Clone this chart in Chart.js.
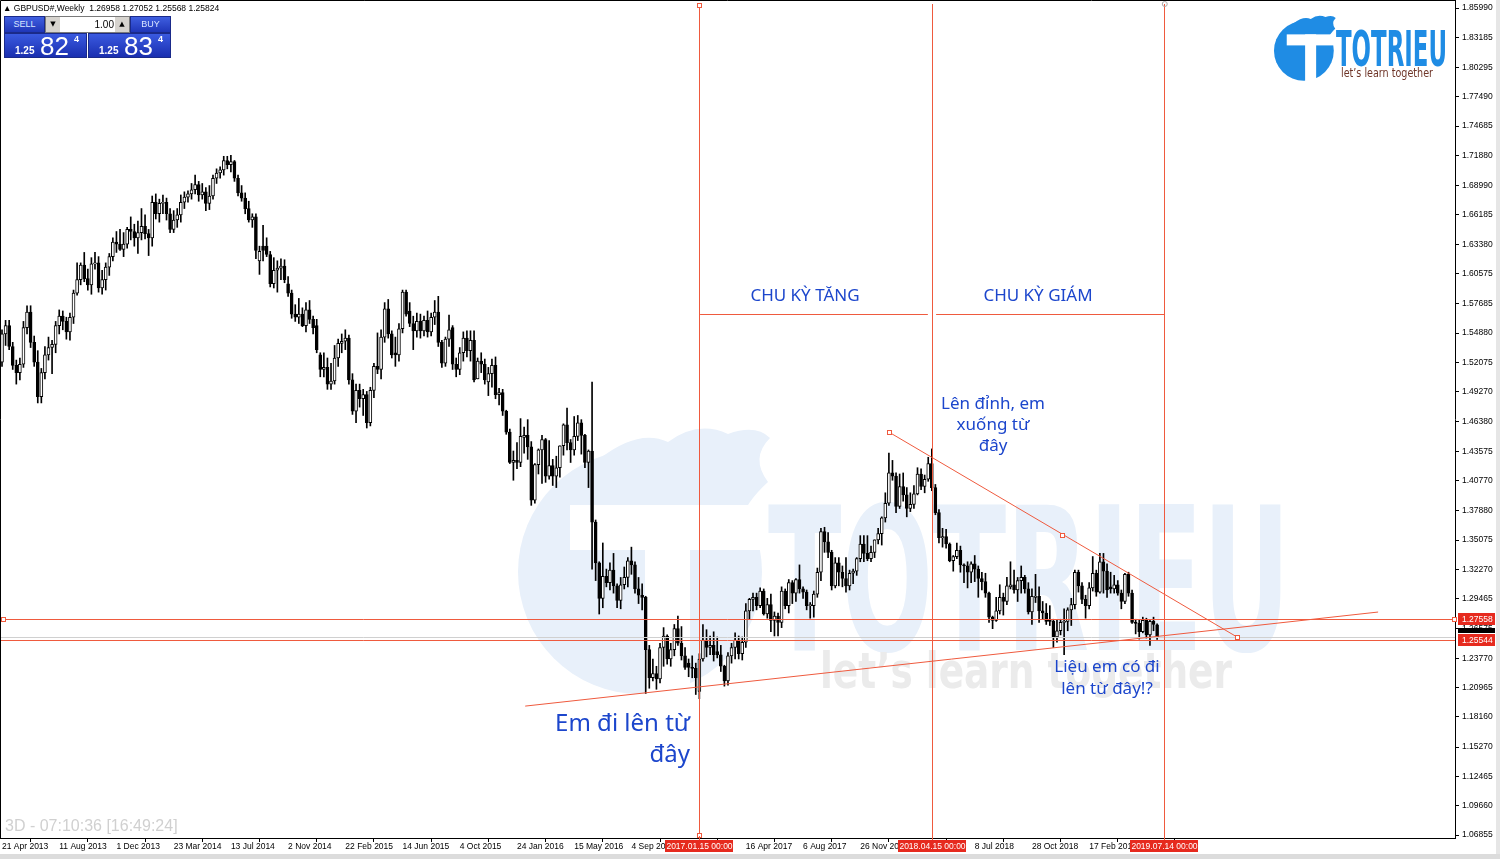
<!DOCTYPE html>
<html>
<head>
<meta charset="utf-8">
<script src="https://cdn.jsdelivr.net/npm/chart.js@4.4.0/dist/chart.umd.min.js"></script>
<style>
  html, body { margin: 0; padding: 0; background: #fff; }
  #wrap { position: relative; width: 1500px; height: 859px; overflow: hidden; background: #fff; }
  #chart { position: absolute; left: 0; top: 0; }
  #hdr { position: absolute; left: 3px; top: 3px; font: 8.5px "Liberation Sans", Arial, sans-serif; color: #000; white-space: pre; }
  .box { position: absolute; box-sizing: border-box; }
  .btn { top: 16px; height: 17px; background: linear-gradient(#3f5fe0, #1f36b8); border: 1px solid #1a2a8a;
         color: #d8e4ff; font: 9px "Liberation Sans", Arial, sans-serif; line-height: 15px; text-align: center; }
  .lot { top: 16px; left: 45px; width: 85px; height: 17px; background: #fff; border: 1px solid #7a7a7a; }
  .arr { position: absolute; top: 0; width: 14px; height: 15px; background: #d6d3ce; font: 7px "DejaVu Sans", sans-serif; line-height: 15px; text-align: center; color: #000; }
  .lotv { position: absolute; left: 16px; width: 52px; top: 0; text-align: right; font: 10px "Liberation Sans", Arial, sans-serif; line-height: 15px; color: #000; }
  .px { top: 33px; height: 25px; background: linear-gradient(#3a5ae0, #1a2fb0); border: 1px solid #1a2a8a; color: #fff; }
  .px .s { position: absolute; left: 10px; bottom: 1px; font: bold 10px "Liberation Sans", Arial, sans-serif; }
  .px .g { position: absolute; left: 35px; top: -3px; font: 26px "Liberation Sans", Arial, sans-serif; }
  .px .u { position: absolute; left: 69px; top: 0px; font: bold 9px "Liberation Sans", Arial, sans-serif; }
  #clock { position: absolute; left: 5px; top: 817px; font: 16px "Liberation Sans", Arial, sans-serif; color: #d0d0d0; }
  #foot { position: absolute; left: 0; top: 854px; width: 1500px; height: 5px; background: #dcdcdc; }
  #side { position: absolute; left: 1496px; top: 0; width: 4px; height: 859px; background: #e6e6e6; }
</style>
</head>
<body>
<div id="wrap">
  <canvas id="chart" width="1500" height="859"></canvas>
  <div id="side"></div>
  <div id="foot"></div>
  <div id="hdr">▲ GBPUSD#,Weekly  1.26958 1.27052 1.25568 1.25824</div>
  <div class="box btn" style="left:4px;width:41px;">SELL</div>
  <div class="box lot">
    <div class="arr" style="left:0">▼</div>
    <div class="lotv">1.00</div>
    <div class="arr" style="right:0">▲</div>
  </div>
  <div class="box btn" style="left:130px;width:41px;">BUY</div>
  <div class="box px" style="left:4px;width:83px;"><span class="s">1.25</span><span class="g">82</span><span class="u">4</span></div>
  <div class="box px" style="left:88px;width:83px;"><span class="s">1.25</span><span class="g">83</span><span class="u">4</span></div>
  <div id="clock">3D - 07:10:36 [16:49:24]</div>
</div>
<script>
// weekly GBPUSD candles [open, high, low, close]; week 0 = 21 Apr 2013
const ohlc2013 = [
  [1.521,1.552,1.517,1.548],[1.548,1.561,1.537,1.556],[1.556,1.561,1.533,1.536],[1.536,1.540,1.514,1.518],
  [1.518,1.523,1.500,1.511],[1.511,1.525,1.504,1.519],[1.519,1.560,1.516,1.554],[1.554,1.575,1.548,1.569],
  [1.569,1.575,1.535,1.540],[1.540,1.546,1.517,1.521],[1.521,1.532,1.482,1.488],[1.488,1.515,1.482,1.511],
  [1.511,1.536,1.505,1.528],[1.528,1.545,1.523,1.535],[1.535,1.542,1.510,1.538],[1.538,1.560,1.530,1.556],
  [1.556,1.571,1.548,1.565],[1.565,1.570,1.552,1.560],[1.560,1.564,1.543,1.550],[1.550,1.568,1.542,1.564],
  [1.564,1.590,1.558,1.587],[1.587,1.616,1.585,1.600],[1.600,1.616,1.595,1.614],[1.614,1.626,1.598,1.601],
  [1.601,1.610,1.590,1.595],[1.595,1.621,1.586,1.615],[1.615,1.626,1.610,1.616],[1.616,1.622,1.588,1.592],
  [1.592,1.609,1.586,1.600],[1.600,1.616,1.590,1.612],[1.612,1.625,1.604,1.622],[1.622,1.640,1.618,1.636],
  [1.636,1.646,1.626,1.634],[1.634,1.648,1.628,1.629],[1.629,1.645,1.622,1.634],[1.634,1.650,1.630,1.648],
  [1.648,1.660,1.638,1.646]
];
const ohlc2014 = [
  [1.646,1.653,1.632,1.640],[1.640,1.656,1.625,1.645],[1.645,1.668,1.638,1.651],[1.651,1.662,1.639,1.644],
  [1.644,1.648,1.623,1.640],[1.640,1.680,1.632,1.674],[1.674,1.682,1.658,1.663],[1.663,1.677,1.655,1.673],
  [1.673,1.681,1.663,1.674],[1.674,1.678,1.657,1.663],[1.663,1.668,1.645,1.648],[1.648,1.666,1.645,1.657],
  [1.657,1.668,1.650,1.662],[1.662,1.681,1.655,1.674],[1.674,1.684,1.668,1.679],[1.679,1.685,1.674,1.682],
  [1.682,1.692,1.677,1.686],[1.686,1.700,1.682,1.691],[1.691,1.694,1.675,1.681],[1.681,1.692,1.677,1.684],
  [1.684,1.688,1.666,1.673],[1.673,1.690,1.667,1.680],[1.680,1.700,1.677,1.697],[1.697,1.706,1.692,1.702],
  [1.702,1.708,1.697,1.705],[1.705,1.718,1.700,1.714],[1.714,1.718,1.706,1.710],[1.710,1.719,1.703,1.713],
  [1.713,1.714,1.694,1.697],[1.697,1.700,1.680,1.683],[1.683,1.690,1.675,1.678],[1.678,1.683,1.663,1.668],
  [1.668,1.675,1.655,1.657],[1.657,1.663,1.650,1.660],[1.660,1.663,1.620,1.628],[1.618,1.632,1.605,1.627],
  [1.632,1.652,1.618,1.628],[1.632,1.640,1.622,1.624],[1.624,1.627,1.593,1.596],[1.596,1.621,1.592,1.609],
  [1.609,1.618,1.588,1.611],[1.611,1.620,1.600,1.613],[1.613,1.619,1.597,1.600],[1.596,1.603,1.584,1.587],
  [1.587,1.590,1.563,1.567],[1.567,1.576,1.560,1.564],[1.564,1.582,1.558,1.567],[1.567,1.573,1.555,1.556],
  [1.556,1.578,1.550,1.571],[1.571,1.580,1.558,1.562],[1.562,1.565,1.548,1.554],[1.556,1.562,1.530,1.533]
];
const ohlc2015 = [
  [1.528,1.530,1.507,1.514],[1.514,1.530,1.507,1.516],[1.516,1.525,1.495,1.500],[1.500,1.520,1.495,1.503],
  [1.503,1.537,1.500,1.525],[1.525,1.543,1.517,1.539],[1.539,1.548,1.530,1.541],[1.541,1.552,1.533,1.544],
  [1.544,1.547,1.500,1.504],[1.504,1.510,1.471,1.474],[1.474,1.500,1.463,1.494],[1.494,1.500,1.478,1.486],
  [1.486,1.495,1.470,1.490],[1.490,1.493,1.458,1.463],[1.463,1.497,1.460,1.494],[1.494,1.520,1.487,1.517],
  [1.517,1.549,1.510,1.514],[1.514,1.552,1.505,1.545],[1.545,1.578,1.540,1.572],[1.572,1.581,1.544,1.548],
  [1.548,1.551,1.525,1.528],[1.530,1.545,1.517,1.528],[1.528,1.558,1.522,1.553],[1.553,1.590,1.549,1.588],
  [1.588,1.590,1.565,1.567],[1.570,1.578,1.555,1.558],[1.558,1.565,1.533,1.551],[1.551,1.568,1.545,1.560],
  [1.560,1.567,1.544,1.551],[1.551,1.565,1.546,1.561],[1.561,1.570,1.545,1.550],[1.550,1.568,1.546,1.564],
  [1.564,1.580,1.557,1.569],[1.569,1.584,1.536,1.540],[1.540,1.542,1.516,1.520],[1.520,1.545,1.517,1.543],
  [1.543,1.566,1.536,1.552],[1.554,1.556,1.514,1.519],[1.519,1.525,1.507,1.514],[1.514,1.535,1.509,1.530],
  [1.530,1.550,1.522,1.544],[1.544,1.551,1.526,1.532],[1.532,1.551,1.522,1.542],[1.542,1.551,1.502,1.504],
  [1.505,1.525,1.505,1.522],[1.522,1.530,1.511,1.519],[1.519,1.524,1.500,1.504],[1.502,1.516,1.489,1.510],
  [1.510,1.524,1.497,1.518],[1.518,1.526,1.486,1.490],[1.490,1.496,1.480,1.492],[1.492,1.495,1.470,1.474]
];
const ohlc2016 = [
  [1.474,1.475,1.452,1.454],[1.454,1.457,1.424,1.425],[1.425,1.436,1.408,1.427],[1.427,1.444,1.419,1.425],
  [1.425,1.467,1.421,1.450],[1.449,1.459,1.434,1.451],[1.451,1.466,1.428,1.440],[1.440,1.445,1.384,1.389],
  [1.389,1.424,1.386,1.423],[1.423,1.438,1.414,1.437],[1.437,1.451,1.405,1.447],[1.447,1.448,1.406,1.412],
  [1.412,1.446,1.409,1.422],[1.422,1.428,1.403,1.412],[1.412,1.431,1.401,1.420],[1.420,1.441,1.411,1.441],
  [1.441,1.462,1.432,1.461],[1.461,1.477,1.437,1.444],[1.444,1.447,1.425,1.437],[1.437,1.469,1.432,1.450],
  [1.450,1.470,1.446,1.463],[1.463,1.466,1.433,1.451],[1.451,1.452,1.420,1.425],[1.425,1.437,1.401,1.436],
  [1.436,1.502,1.323,1.368],[1.368,1.370,1.312,1.329],[1.329,1.330,1.280,1.295],[1.295,1.348,1.286,1.316],
  [1.316,1.323,1.306,1.310],[1.310,1.329,1.303,1.322],[1.322,1.338,1.300,1.307],[1.307,1.309,1.286,1.293],
  [1.293,1.315,1.285,1.308],[1.308,1.325,1.304,1.315],[1.315,1.334,1.306,1.331],[1.331,1.344,1.318,1.327],
  [1.327,1.330,1.300,1.304],[1.304,1.315,1.290,1.298],[1.298,1.309,1.284,1.296],[1.296,1.297,1.204,1.246],
  [1.246,1.250,1.209,1.219],[1.219,1.237,1.216,1.223],[1.223,1.230,1.208,1.218],[1.218,1.252,1.214,1.248],
  [1.248,1.267,1.230,1.259],[1.259,1.260,1.232,1.237],[1.237,1.252,1.230,1.246],[1.246,1.270,1.240,1.266],
  [1.266,1.278,1.250,1.252],[1.252,1.268,1.236,1.240],[1.240,1.248,1.227,1.229],[1.233,1.237,1.220,1.229]
];
const ohlc2017 = [
  [1.229,1.240,1.219,1.228],[1.228,1.233,1.203,1.219],[1.206,1.242,1.199,1.237],[1.237,1.270,1.235,1.255],
  [1.255,1.265,1.239,1.248],[1.248,1.259,1.241,1.250],[1.250,1.263,1.235,1.241],[1.244,1.258,1.238,1.241],
  [1.241,1.250,1.225,1.230],[1.230,1.231,1.211,1.216],[1.216,1.243,1.212,1.240],[1.240,1.252,1.233,1.248],
  [1.248,1.262,1.237,1.255],[1.255,1.259,1.237,1.242],[1.242,1.258,1.236,1.253],[1.253,1.290,1.248,1.283],
  [1.283,1.295,1.275,1.294],[1.294,1.300,1.283,1.296],[1.296,1.300,1.284,1.288],[1.288,1.305,1.286,1.302],
  [1.302,1.304,1.279,1.280],[1.280,1.295,1.276,1.289],[1.289,1.299,1.263,1.274],[1.274,1.282,1.259,1.278],
  [1.278,1.281,1.259,1.272],[1.272,1.306,1.267,1.302],[1.302,1.304,1.285,1.288],[1.288,1.313,1.281,1.310],
  [1.310,1.312,1.290,1.300],[1.300,1.314,1.292,1.313],[1.313,1.327,1.300,1.304],[1.304,1.306,1.295,1.301],
  [1.301,1.303,1.284,1.288],[1.288,1.291,1.276,1.288],[1.288,1.302,1.277,1.299],[1.299,1.324,1.296,1.320],
  [1.320,1.362,1.312,1.359],[1.359,1.363,1.339,1.349],[1.349,1.358,1.334,1.339],[1.339,1.341,1.303,1.307],
  [1.307,1.334,1.305,1.329],[1.329,1.334,1.307,1.320],[1.320,1.326,1.306,1.314],[1.314,1.334,1.301,1.307],
  [1.307,1.322,1.303,1.319],[1.319,1.323,1.309,1.321],[1.321,1.334,1.317,1.333],[1.333,1.355,1.330,1.347],
  [1.347,1.355,1.330,1.338],[1.338,1.355,1.331,1.333],[1.333,1.345,1.330,1.339],[1.339,1.351,1.334,1.351],
  [1.351,1.362,1.347,1.357]
];
const ohlc2018 = [
  [1.357,1.373,1.346,1.372],[1.372,1.396,1.368,1.386],[1.386,1.434,1.384,1.415],[1.415,1.427,1.408,1.412],
  [1.412,1.415,1.377,1.383],[1.383,1.414,1.381,1.402],[1.402,1.415,1.388,1.394],[1.394,1.401,1.373,1.381],
  [1.381,1.396,1.378,1.385],[1.385,1.403,1.381,1.395],[1.395,1.420,1.394,1.414],[1.414,1.419,1.399,1.402],
  [1.402,1.413,1.396,1.409],[1.409,1.430,1.407,1.424],[1.424,1.438,1.398,1.401],[1.401,1.404,1.375,1.377],
  [1.377,1.380,1.348,1.353],[1.353,1.362,1.344,1.354],[1.354,1.361,1.343,1.347],[1.347,1.348,1.330,1.331],
  [1.331,1.336,1.321,1.335],[1.335,1.348,1.333,1.341],[1.341,1.345,1.320,1.327],[1.327,1.328,1.310,1.326],
  [1.326,1.330,1.305,1.320],[1.320,1.330,1.310,1.328],[1.328,1.336,1.311,1.323],[1.323,1.326,1.296,1.314],
  [1.314,1.320,1.303,1.311],[1.311,1.319,1.296,1.300],[1.300,1.301,1.272,1.277],[1.277,1.278,1.266,1.274],
  [1.274,1.296,1.273,1.283],[1.283,1.308,1.280,1.296],[1.296,1.300,1.279,1.292],[1.292,1.315,1.289,1.307],
  [1.306,1.330,1.304,1.308],[1.308,1.322,1.300,1.303],[1.303,1.315,1.292,1.312],[1.312,1.326,1.300,1.315],
  [1.315,1.317,1.300,1.304],[1.304,1.310,1.280,1.282],[1.282,1.304,1.270,1.297],[1.296,1.318,1.291,1.297],
  [1.297,1.306,1.272,1.283],[1.283,1.292,1.275,1.281],[1.281,1.290,1.270,1.273],[1.275,1.288,1.269,1.273],
  [1.273,1.275,1.248,1.258],[1.258,1.274,1.253,1.264],[1.264,1.275,1.260,1.272],[1.272,1.285,1.241,1.273]
];
const ohlc2019 = [
  [1.273,1.286,1.264,1.284],[1.284,1.295,1.269,1.289],[1.289,1.322,1.285,1.320],[1.320,1.322,1.301,1.307],
  [1.307,1.310,1.290,1.294],[1.294,1.298,1.276,1.288],[1.288,1.310,1.285,1.305],[1.305,1.335,1.302,1.319],
  [1.319,1.322,1.297,1.301],[1.301,1.338,1.300,1.330],[1.330,1.338,1.300,1.321],[1.321,1.328,1.296,1.303],
  [1.306,1.320,1.300,1.304],[1.304,1.317,1.300,1.308],[1.308,1.312,1.298,1.300],[1.300,1.303,1.285,1.292],
  [1.292,1.319,1.290,1.318],[1.318,1.320,1.297,1.300],[1.300,1.303,1.271,1.272],[1.272,1.275,1.261,1.271],
  [1.271,1.274,1.256,1.263],[1.263,1.277,1.262,1.274],[1.274,1.276,1.257,1.260],[1.260,1.275,1.250,1.273],
  [1.273,1.277,1.264,1.270],[1.2696,1.2705,1.2557,1.2582]
];

// axis labels
const timeTickIdx = [0,16,32,48,64,80,96,112,128,144,160,176,192,208,224,240,256,272,288,304,320];
const timeLabels = ['21 Apr 2013','11 Aug 2013','1 Dec 2013','23 Mar 2014','13 Jul 2014','2 Nov 2014',
  '22 Feb 2015','14 Jun 2015','4 Oct 2015','24 Jan 2016','15 May 2016','4 Sep 2016','25 Dec 2016',
  '16 Apr 2017','6 Aug 2017','26 Nov 2017','18 Mar 2018','8 Jul 2018','28 Oct 2018','17 Feb 2019','9 Jun 2019'];
const priceTicks = [1.85990,1.83185,1.80295,1.77490,1.74685,1.71880,1.68990,1.66185,1.63380,1.60575,
  1.57685,1.54880,1.52075,1.49270,1.46380,1.43575,1.40770,1.37880,1.35075,1.32270,1.29465,1.26575,
  1.23770,1.20965,1.18160,1.15270,1.12465,1.09660,1.06855];

// drawn objects
const hLevels = [1.27558, 1.25544];
const bidPrice = 1.25824;
const vLineIdx = [195, 260, 325];
const vLineLabels = ['2017.01.15 00:00', '2018.04.15 00:00', '2019.07.14 00:00'];
const trendUp = [[146.3, 1.1919], [384.8, 1.2819]];
const trendDown = [[248.0, 1.4541], [296.4, 1.3556], [345.4, 1.2579]];
const cycleLines = [[195.2, 258.9, 1.5671], [261.2, 325.2, 1.5671]];

const candles = [].concat(ohlc2013, ohlc2014, ohlc2015, ohlc2016, ohlc2017, ohlc2018, ohlc2019);

const RED = '#ef5a3e';
const LABEL_RED = '#e62a1e';
const TXT_BLUE = '#1c46cc';
const AXIS_FONT = '8.5px "Liberation Sans", Arial, sans-serif';

function fitText(ctx, text, x, baseline, width, font) {
  ctx.font = font;
  const w = ctx.measureText(text).width;
  ctx.save();
  ctx.translate(x, baseline);
  ctx.scale(width / w, 1);
  ctx.textAlign = 'left';
  ctx.textBaseline = 'alphabetic';
  ctx.fillText(text, 0, 0);
  ctx.restore();
}

// round badge with flame and a white T; s = scale, (ox, oy) = top-left of a 250x270 design box
function drawBadge(ctx, ox, oy, s, color) {
  const X = v => ox + v * s, Y = v => oy + v * s;
  ctx.fillStyle = color;
  ctx.beginPath(); ctx.arc(X(122), Y(142), 122 * s, 0, Math.PI * 2); ctx.fill();
  ctx.beginPath();
  ctx.moveTo(X(80), Y(30));
  ctx.quadraticCurveTo(X(120), Y(-2), X(150), Y(12));
  ctx.quadraticCurveTo(X(180), Y(-10), X(210), Y(4));
  ctx.quadraticCurveTo(X(238), Y(-6), X(252), Y(8));
  ctx.quadraticCurveTo(X(232), Y(28), X(250), Y(52));
  ctx.quadraticCurveTo(X(228), Y(72), X(222), Y(92));
  ctx.lineTo(X(120), Y(92));
  ctx.closePath(); ctx.fill();
  ctx.fillStyle = '#ffffff';
  ctx.fillRect(X(52), Y(75), 195 * s, 45 * s);
  ctx.fillRect(X(127), Y(75), 45 * s, 200 * s);
}

const overlay = {
  id: 'overlay',
  beforeDatasetsDraw(chart) {
    const { ctx, chartArea: a } = chart;
    ctx.save();
    ctx.beginPath(); ctx.rect(a.left, a.top, a.right - a.left, a.bottom - a.top); ctx.clip();
    drawBadge(ctx, 518, 430, 1, '#e8f0fa');
    ctx.fillStyle = '#e8f0fa';
    fitText(ctx, 'TOTRIEU', 768, 650, 522, 'bold 199px "DejaVu Sans", sans-serif');
    ctx.fillStyle = '#ebebeb';
    fitText(ctx, 'let\u2019s learn together', 820, 688, 412, 'bold 50px "DejaVu Sans", sans-serif');
    ctx.restore();
  },
  afterDatasetsDraw(chart) {
    const { ctx, chartArea: a, scales: { x, y } } = chart;
    const px = v => x.getPixelForValue(v);
    const py = v => y.getPixelForValue(v);
    ctx.save();
    ctx.beginPath(); ctx.rect(a.left, a.top, a.right - a.left, a.bottom - a.top); ctx.clip();
    ctx.lineWidth = 1;
    // bid line
    ctx.strokeStyle = '#d0d0d0';
    let yy = Math.round(py(bidPrice)) + 0.5;
    ctx.beginPath(); ctx.moveTo(a.left, yy); ctx.lineTo(a.right, yy); ctx.stroke();
    ctx.strokeStyle = RED;
    hLevels.forEach(p => {
      const yv = Math.round(py(p)) + 0.5;
      ctx.beginPath(); ctx.moveTo(a.left, yv); ctx.lineTo(a.right, yv); ctx.stroke();
    });
    vLineIdx.forEach(i => {
      const xv = Math.round(px(i)) + 0.5;
      ctx.beginPath(); ctx.moveTo(xv, a.top + 4); ctx.lineTo(xv, a.bottom - 2); ctx.stroke();
    });
    const seg = pts => {
      ctx.beginPath();
      ctx.moveTo(px(pts[0][0]), py(pts[0][1]));
      for (let k = 1; k < pts.length; k++) ctx.lineTo(px(pts[k][0]), py(pts[k][1]));
      ctx.stroke();
    };
    seg(trendUp);
    seg([trendDown[0], trendDown[trendDown.length - 1]]);
    cycleLines.forEach(c => {
      const yv = Math.round(py(c[2])) + 0.5;
      ctx.beginPath(); ctx.moveTo(px(c[0]), yv); ctx.lineTo(px(c[1]), yv); ctx.stroke();
    });
    // handles
    const sq = (cx, cy) => {
      ctx.fillStyle = '#fff';
      ctx.fillRect(Math.round(cx) - 2, Math.round(cy) - 2, 5, 5);
      ctx.strokeRect(Math.round(cx) - 2 + 0.5, Math.round(cy) - 2 + 0.5, 4, 4);
    };
    trendDown.forEach(p => sq(px(p[0]), py(p[1])));
    sq(a.left + 3, py(hLevels[0]));
    sq(px(vLineIdx[0]), a.top + 5);
    sq(px(vLineIdx[0]), a.bottom - 3);
    ctx.strokeStyle = '#aaa';
    ctx.beginPath(); ctx.arc(px(vLineIdx[2]) + 0.5, a.top + 4, 2.5, 0, Math.PI * 2); ctx.stroke();

    // annotations
    ctx.fillStyle = TXT_BLUE;
    ctx.textBaseline = 'middle';
    ctx.textAlign = 'center';
    ctx.font = '17px "Noto Sans", "Open Sans", sans-serif';
    ctx.fillText('CHU KỲ TĂNG', 805, 296);
    ctx.fillText('CHU KỲ GIÁM', 1038, 296);
    ctx.fillText('Lên đỉnh, em', 993, 404);
    ctx.fillText('xuống từ', 993, 425);
    ctx.fillText('đây', 993, 446);
    ctx.fillText('Liệu em có đi', 1107, 667);
    ctx.fillText('lên từ đây!?', 1107, 689);
    ctx.textAlign = 'right';
    ctx.font = '24px "Noto Sans", "Open Sans", sans-serif';
    ctx.fillText('Em đi lên từ', 690, 724);
    ctx.fillText('đây', 690, 755);
    ctx.restore();
  },
  afterDraw(chart) {
    const { ctx, chartArea: a, scales: { x, y } } = chart;
    const px = v => x.getPixelForValue(v);
    const py = v => y.getPixelForValue(v);
    ctx.save();
    // frame
    ctx.strokeStyle = '#000'; ctx.lineWidth = 1;
    ctx.beginPath(); ctx.moveTo(0.5, a.bottom); ctx.lineTo(0.5, 0.5); ctx.lineTo(a.right, 0.5); ctx.stroke();
    // time labels of the vertical lines
    ctx.font = AXIS_FONT; ctx.textBaseline = 'middle'; ctx.textAlign = 'center';
    vLineIdx.forEach((i, k) => {
      const xv = Math.round(px(i));
      ctx.fillStyle = LABEL_RED;
      ctx.fillRect(xv - 34, a.bottom + 2, 68, 12);
      ctx.fillStyle = '#fff';
      ctx.fillRect(xv + 34, a.bottom + 2, 5, 12);
      ctx.fillStyle = '#fff';
      ctx.fillText(vLineLabels[k], xv + 0.5, a.bottom + 8.5);
      ctx.strokeStyle = RED;
      ctx.beginPath(); ctx.moveTo(xv + 0.5, a.bottom - 2); ctx.lineTo(xv + 0.5, a.bottom + 2); ctx.stroke();
    });
    // price labels
    ctx.textAlign = 'left';
    ctx.fillStyle = '#000';
    ctx.fillRect(a.right + 3, Math.round(py(bidPrice)) - 9, 37, 5);
    hLevels.forEach(p => {
      const yv = Math.round(py(p));
      ctx.fillStyle = LABEL_RED;
      ctx.fillRect(a.right + 3, yv - 6, 37, 12);
      ctx.fillStyle = '#fff';
      ctx.fillText(p.toFixed(5), a.right + 7, yv + 0.5);
    });
    ctx.strokeStyle = RED;
    ctx.fillStyle = '#fff';
    const yh = Math.round(py(hLevels[0]));
    ctx.fillRect(a.right - 3, yh - 2, 5, 5);
    ctx.strokeRect(a.right - 3 + 0.5, yh - 2 + 0.5, 4, 4);
    // top right logo
    drawBadge(ctx, 1274, 16, 0.245, '#1f8ce4');
    ctx.fillStyle = '#1f8ce4';
    fitText(ctx, 'TOTRIEU', 1336, 66, 111, 'bold 49px "DejaVu Sans", sans-serif');
    ctx.fillStyle = '#6e3528';
    fitText(ctx, 'let\u2019s learn together', 1341, 77, 92, '12px "DejaVu Sans", sans-serif');
    ctx.restore();
  }
};

const ctx = document.getElementById('chart').getContext('2d');
new Chart(ctx, {
  type: 'bar',
  data: {
    datasets: [
      {
        label: 'body',
        data: candles.map((c, i) => ({ x: i, y: [c[0], c[3]] })),
        backgroundColor: candles.map(c => c[3] >= c[0] ? '#ffffff' : '#000000'),
        borderColor: '#000000',
        borderWidth: 1,
        borderSkipped: false,
        barThickness: 3,
        minBarLength: 1,
        grouped: false,
        order: 0
      },
      {
        label: 'wick',
        data: candles.map((c, i) => ({ x: i, y: [c[2], c[1]] })),
        backgroundColor: '#000000',
        borderWidth: 0,
        barThickness: 1,
        grouped: false,
        order: 1
      }
    ]
  },
  options: {
    responsive: false,
    animation: false,
    events: [],
    layout: { padding: 0 },
    plugins: { legend: { display: false }, tooltip: { enabled: false } },
    scales: {
      x: {
        type: 'linear',
        min: -0.56,
        max: 406.3,
        offset: false,
        grid: { display: true, drawOnChartArea: false, drawTicks: true, tickLength: 4, color: '#000' },
        border: { display: true, color: '#000' },
        ticks: {
          autoSkip: false, maxRotation: 0, minRotation: 0, align: 'start', padding: 0,
          color: '#000', font: { family: '"Liberation Sans", Arial, sans-serif', size: 8.5 },
          callback: v => { const k = timeTickIdx.indexOf(v); return k >= 0 ? timeLabels[k] : ''; }
        },
        afterBuildTicks: s => { s.ticks = timeTickIdx.map(v => ({ value: v })); },
        afterFit: s => { s.height = 21; s.paddingLeft = 0; s.paddingRight = 0; }
      },
      y: {
        type: 'linear',
        position: 'right',
        min: 1.06568,
        max: 1.86756,
        grid: { display: true, drawOnChartArea: false, drawTicks: true, tickLength: 4, color: '#000' },
        border: { display: true, color: '#000' },
        ticks: {
          padding: 3, color: '#000',
          font: { family: '"Liberation Sans", Arial, sans-serif', size: 8.5 },
          callback: v => Number(v).toFixed(5)
        },
        afterBuildTicks: s => { s.ticks = priceTicks.map(v => ({ value: v })); },
        afterFit: s => { s.width = 45; s.paddingTop = 0; s.paddingBottom = 0; }
      }
    }
  },
  plugins: [overlay]
});
</script>
</body>
</html>
